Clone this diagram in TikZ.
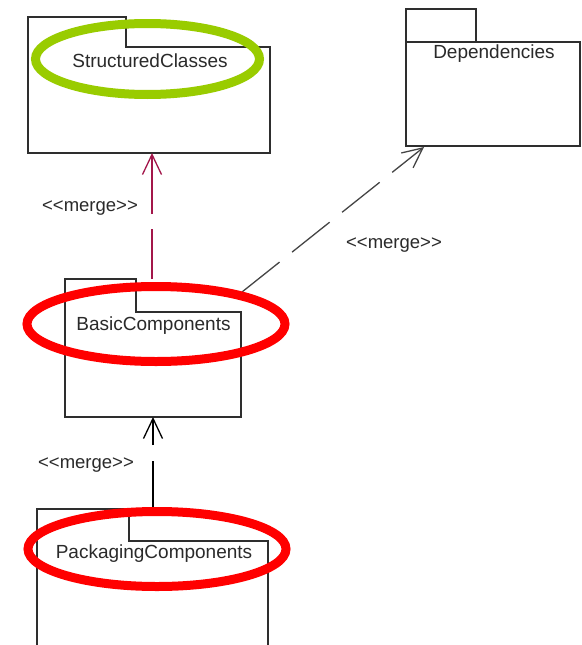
\documentclass[tikz,border=0pt]{standalone}
\usepackage{fontspec}
\setmainfont{Liberation Sans}
\usetikzlibrary{arrows.meta}

\definecolor{pkgline}{HTML}{2E2E2E}
\definecolor{txtcol}{HTML}{2A2A2A}
\definecolor{mergered}{HTML}{A3164A}
\definecolor{dashgray}{HTML}{454545}
\definecolor{hlgreen}{HTML}{99CC00}
\definecolor{hlred}{HTML}{FF0000}

\tikzset{
  box/.style={rectangle, inner sep=0pt, outer sep=0pt},
  pkgedge/.style={draw=pkgline, line width=1.3pt, line join=miter},
  pkgname/.style={inner sep=0pt, text=txtcol, font=\fontsize{19}{22}\selectfont},
  mergelabel/.style={inner sep=0pt, text=txtcol, font=\fontsize{18.5}{22}\selectfont},
  openhead/.style={-{Straight Barb[length=20pt, width=19pt, line width=1.3pt]}},
  mergedash/.style={line width=1.3pt, dash pattern=on 48pt off 16pt},
  highlight/.style={line width=9pt}
}

\begin{document}
\begin{tikzpicture}[x=1pt, y=-1pt]
  \clip (0,0) rectangle (581,645);
  \fill[white] (0,0) rectangle (581,645);

  % package bodies and tabs (placed, drawn below as outlines)
  \node[box, minimum width=242pt, minimum height=106pt] (sc)  at (149,100) {};
  \node[box, minimum width=98pt,  minimum height=30pt]  (sct) at (77,32) {};
  \node[box, minimum width=174pt, minimum height=104pt] (dep)  at (493,94) {};
  \node[box, minimum width=70pt,  minimum height=33pt]  (dept) at (441,25.5) {};
  \node[box, minimum width=176pt, minimum height=105pt] (bc)  at (153,364.5) {};
  \node[box, minimum width=71pt,  minimum height=33pt]  (bct) at (100.5,295.5) {};
  \node[box, minimum width=231pt, minimum height=160pt] (pc)  at (152.5,621) {};
  \node[box, minimum width=92pt,  minimum height=32pt]  (pct) at (83,525) {};

  % StructuredClasses outline
  \draw[pkgedge] (sct.north west) -- (sct.north east) -- (sct.south east)
    -- (sc.north east) -- (sc.south east) -- (sc.south west) -- cycle;
  % Dependencies: separate tab and body
  \draw[pkgedge] (dept.south west) rectangle (dept.north east);
  \draw[pkgedge] (dep.south west) rectangle (dep.north east);
  % BasicComponents outline
  \draw[pkgedge] (bct.north west) -- (bct.north east) -- (bct.south east)
    -- (bc.north east) -- (bc.south east) -- (bc.south west) -- cycle;
  % PackagingComponents outline
  \draw[pkgedge] (pct.north west) -- (pct.north east) -- (pct.south east)
    -- (pc.north east) -- (pc.south east) -- (pc.south west) -- cycle;

  % package names
  \node[pkgname] (scname)  at (150,61)  {StructuredClasses};
  \node[pkgname] (depname) at (494,54)  {Dependencies};
  \node[pkgname] (bcname)  at (153.5,326) {BasicComponents};
  \node[pkgname] (pcname)  at (154,554) {PackagingComponents};

  % merge dependencies
  \coordinate (bcup) at (152,0);
  \coordinate (bcstart) at (242,292);
  \coordinate (deptip) at (424,147);
  \draw[line width=1.3pt, dash pattern=on 50pt off 15pt on 90pt off 10pt,
        draw=mergered, openhead] (bct.north -| bcup) -- (sc.south -| bcup);
  \draw[mergedash, draw=dashgray, openhead] (bcstart) -- (deptip);
  \draw[mergedash, draw=black, openhead] (pct.north -| bc.south) -- (bc.south);

  \node[mergelabel] (m1) at (90,208)  {<{}<merge>{}>};
  \node[mergelabel] (m2) at (394,245) {<{}<merge>{}>};
  \node[mergelabel] (m3) at (86,465)  {<{}<merge>{}>};

  % highlight rings
  \draw[highlight, draw=hlgreen] (147.5,59) ellipse [x radius=112, y radius=35.5];
  \draw[highlight, draw=hlred] (156,324) ellipse [x radius=129, y radius=37.5];
  \draw[highlight, draw=hlred] (157,549) ellipse [x radius=129, y radius=37.5];
\end{tikzpicture}
\end{document}
